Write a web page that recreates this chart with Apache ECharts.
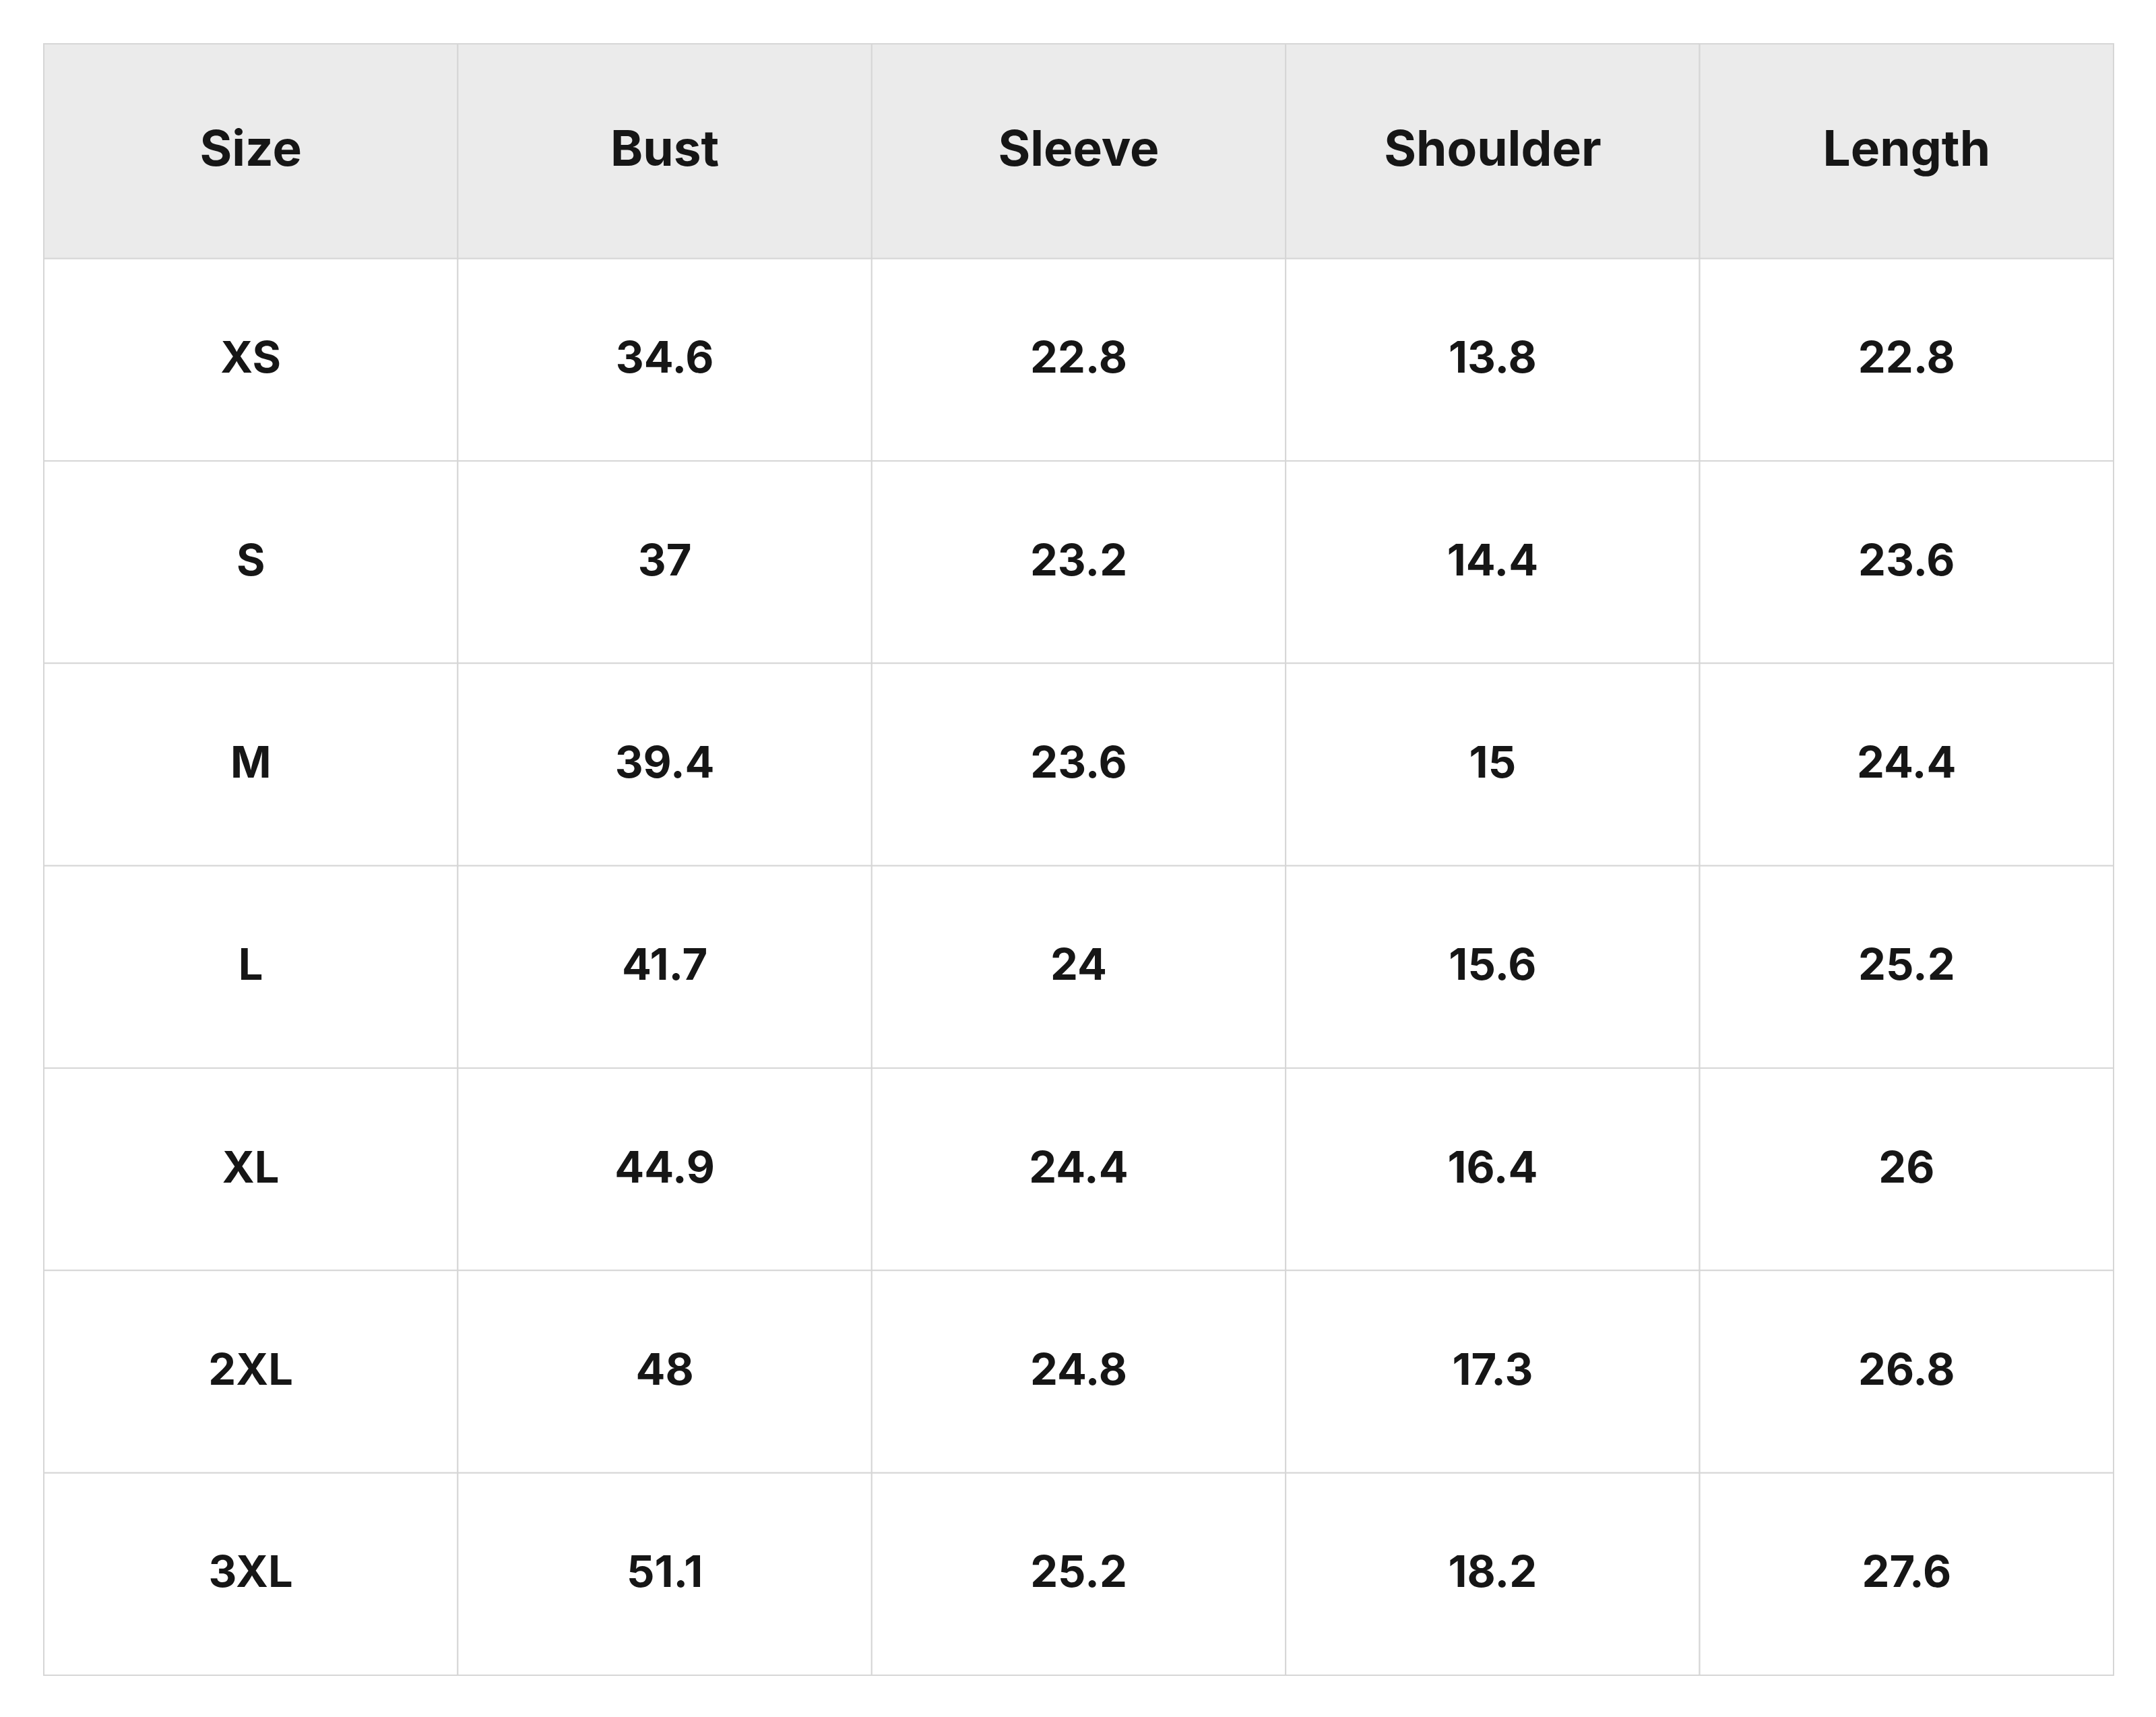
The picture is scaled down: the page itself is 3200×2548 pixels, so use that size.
<!DOCTYPE html>
<html><head><meta charset="utf-8">
<script src="https://cdn.jsdelivr.net/npm/echarts@6/dist/echarts.min.js"></script>
<style>html,body{margin:0;padding:0;background:#fff}#c{width:3200px;height:2548px}</style>
</head><body><div id="c"></div>
<script>
const headers = ["Size","Bust","Sleeve","Shoulder","Length"];
const sizes = ["XS","S","M","L","XL","2XL","3XL"];
const bust = ["34.6","37","39.4","41.7","44.9","48","51.1"];
const sleeve = ["22.8","23.2","23.6","24","24.4","24.8","25.2"];
const shoulder = ["13.8","14.4","15","15.6","16.4","17.3","18.2"];
const lengthV = ["22.8","23.6","24.4","25.2","26","26.8","27.6"];

const headerH = 156/147;
const cols = [sizes, bust, sleeve, shoulder, lengthV];
const data = [];
headers.forEach((h,c)=>data.push([c, 0, headerH, h, 1]));
cols.forEach((arr,c)=>arr.forEach((v,r)=>data.push([c, headerH+r, headerH+r+1, v, 0])));

const chart = echarts.init(document.getElementById('c'));
chart.setOption({
  animation:false,
  grid:{left:65,right:63,top:65,bottom:62},
  xAxis:{type:'value',min:0,max:5,show:false},
  yAxis:{type:'value',min:0,max:headerH+7,inverse:true,show:false},
  series:[{
    type:'custom',
    data:data,
    renderItem:function(params,api){
      const c=api.value(0);
      const p0=api.coord([c,api.value(1)]);
      const p1=api.coord([c+1,api.value(2)]);
      const hdr=api.value(4)===1;
      return {
        type:'rect',
        shape:{x:p0[0],y:p0[1],width:p1[0]-p0[0],height:p1[1]-p0[1]},
        style:{
          fill:hdr?'#ebebeb':'#ffffff',stroke:'#d6d6d6',lineWidth:2,
          text:String(api.value(3)),
          textFill:'#161616',
          fontSize:hdr?73:65,fontWeight:'bold',fontFamily:'Inter, "Noto Sans", sans-serif',
          textPosition:'inside'
        }
      };
    },
    encode:{x:0,y:[1,2]}
  }]
});
</script></body></html>
